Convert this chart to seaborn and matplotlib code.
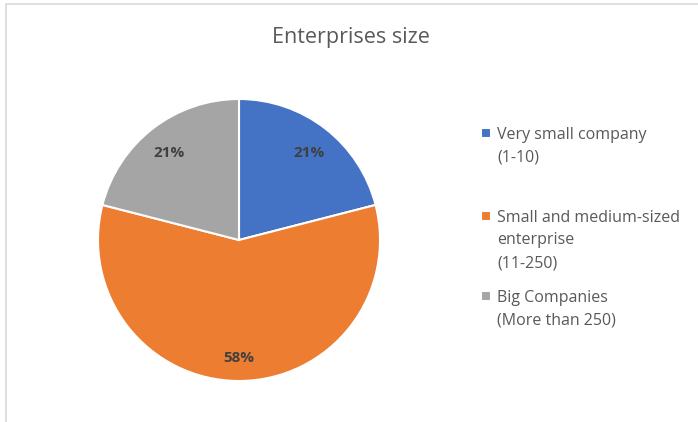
import matplotlib
matplotlib.use("Agg")
import matplotlib.pyplot as plt
import seaborn as sns
from matplotlib.patches import Rectangle

# data
categories = [["Very small company", "(1-10)"],
              ["Small and medium-sized", "enterprise", "(11-250)"],
              ["Big Companies", "(More than 250)"]]
shares = [21, 58, 21]
colors = ["#4472C4", "#ED7D31", "#A5A5A5"]

sns.set_theme(style="white")
plt.rcParams['font.family'] = ['Open Sans', 'DejaVu Sans']

fig = plt.figure(figsize=(6.98, 4.22), dpi=100)

# light frame like the excel chart area
fig.patches.append(Rectangle((6 / 698, -0.1), 1.2, 1.1 - 4 / 422,
                             transform=fig.transFigure, fill=False,
                             edgecolor="#D9D9D9", linewidth=1.2))

ax = fig.add_axes([98 / 698, 41 / 422, 282 / 698, 282 / 422])
wedges, texts, autotexts = ax.pie(shares, colors=colors, startangle=90, counterclock=False,
                                  autopct='%1.0f%%', pctdistance=0.81,
                                  wedgeprops=dict(edgecolor="white", linewidth=1.5),
                                  textprops=dict(color="#404040", fontsize=11, fontweight="bold"))
for t in autotexts:
    x, y = t.get_position()
    t.set_position((x, y - 0.025))
ax.set_xlim(-1, 1)
ax.set_ylim(-1, 1)
ax.set_aspect("equal")

fig.text(351 / 698, 1 - 38 / 422, "Enterprises size", ha="center", va="center",
         fontsize=15.5, color="#595959")

# legend: marker next to the first line, other lines below
first_y = [135, 218, 298]
pitch = 22.5
for w, lines, y in zip(wedges, categories, first_y):
    fig.legend([w], [lines[0]], loc="center left", bbox_to_anchor=(481 / 698, 1 - y / 422),
               frameon=False, borderpad=0, borderaxespad=0, handlelength=0.6,
               handleheight=0.6, handletextpad=0.4,
               prop=dict(size=11.5), labelcolor="#595959")
    for i, line in enumerate(lines[1:], start=1):
        fig.text(497 / 698, 1 - (y + i * pitch) / 422, line, ha="left", va="center",
                 fontsize=11.5, color="#595959")

fig.savefig("out.png", dpi=100)
